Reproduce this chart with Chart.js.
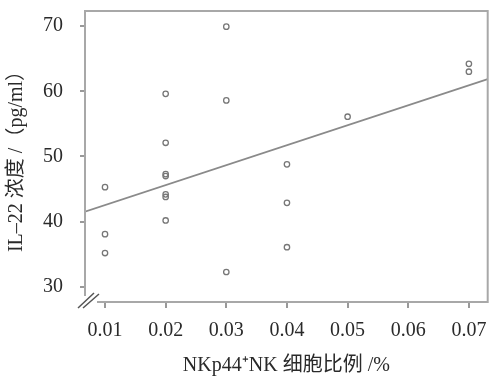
<!DOCTYPE html>
<html>
<head>
<meta charset="utf-8">
<script src="https://cdn.jsdelivr.net/npm/chart.js@4/dist/chart.umd.min.js"></script>
<style>
  html, body { margin: 0; padding: 0; background: #fff; }
  #wrap { width: 493px; height: 381px; }
</style>
</head>
<body>
<div id="wrap"><canvas id="main"></canvas></div>
<script>
// NKp44+NK cell ratio (%) vs IL-22 concentration (pg/ml)
const ratioX = [0.01, 0.01, 0.01,
  0.02, 0.02, 0.02, 0.02, 0.02, 0.02, 0.02,
  0.03, 0.03, 0.03,
  0.04, 0.04, 0.04,
  0.05,
  0.07, 0.07];
const il22Y = [45.3, 38.1, 35.2,
  59.6, 52.1, 47.3, 47.0, 44.2, 43.8, 40.2,
  69.9, 58.6, 32.3,
  48.8, 42.9, 36.1,
  56.1,
  64.2, 63.0];

// fitted line, read at the two plot edges
const fitX = [0.0067, 0.0731];
const fitY = [41.55, 61.86];

const xTicks = [0.01, 0.02, 0.03, 0.04, 0.05, 0.06, 0.07];
const yTicks = [30, 40, 50, 60, 70];

const xTitle = 'NKp44⁺NK 细胞比例 /%';
const yTitle = 'IL–22 浓度 /（pg/ml）';

const serif = "'Liberation Serif', 'Noto Sans CJK SC', serif";

// frame with the axis break at bottom-left
const framePlugin = {
  id: 'frame',
  afterDraw(chart) {
    const { ctx, chartArea: a } = chart;
    ctx.save();
    ctx.lineWidth = 2;
    ctx.strokeStyle = '#a8a8a8';
    ctx.beginPath();
    ctx.moveTo(a.left, a.bottom - 6);
    ctx.lineTo(a.left, a.top);
    ctx.lineTo(a.right, a.top);
    ctx.lineTo(a.right, a.bottom);
    ctx.lineTo(a.left + 12, a.bottom);
    ctx.stroke();
    ctx.lineWidth = 1.5;
    ctx.strokeStyle = '#555';
    ctx.beginPath();
    ctx.moveTo(a.left - 7, a.bottom + 6);
    ctx.lineTo(a.left + 9, a.bottom - 9);
    ctx.moveTo(a.left - 2, a.bottom + 6);
    ctx.lineTo(a.left + 14, a.bottom - 8);
    ctx.stroke();
    ctx.restore();
  }
};

const pts = ratioX.map((x, i) => ({ x: x, y: il22Y[i] }));
const line = fitX.map((x, i) => ({ x: x, y: fitY[i] }));

new Chart(document.getElementById('main'), {
  type: 'scatter',
  data: {
    datasets: [
      {
        label: 'points',
        data: pts,
        pointStyle: 'circle',
        pointRadius: 2.7,
        borderColor: '#777',
        backgroundColor: 'rgba(0,0,0,0)',
        borderWidth: 1.3
      },
      {
        label: 'fit',
        type: 'line',
        data: line,
        borderColor: '#8a8a8a',
        borderWidth: 1.6,
        pointRadius: 0,
        fill: false
      }
    ]
  },
  options: {
    responsive: true,
    maintainAspectRatio: false,
    animation: false,
    layout: { padding: { top: 11, right: 3, left: 0, bottom: 0 } },
    plugins: {
      legend: { display: false },
      tooltip: { enabled: false }
    },
    scales: {
      x: {
        type: 'linear',
        min: 0.0067,
        max: 0.0731,
        afterBuildTicks: s => { s.ticks = xTicks.map(v => ({ value: v })); },
        afterFit: s => { s.height = 79; s.paddingLeft = 0; s.paddingRight = 0; },
        border: { display: false },
        grid: { drawOnChartArea: false, drawTicks: true, tickLength: 6, color: '#999', lineWidth: 2 },
        ticks: {
          color: '#2a2a2a',
          padding: 11,
          font: { family: serif, size: 20 },
          callback: v => v.toFixed(2)
        },
        title: {
          display: true,
          text: xTitle,
          color: '#2a2a2a',
          font: { family: serif, size: 20 },
          padding: { top: 0, bottom: 3 }
        }
      },
      y: {
        type: 'linear',
        min: 27.7,
        max: 72.3,
        afterBuildTicks: s => { s.ticks = yTicks.map(v => ({ value: v })); },
        afterFit: s => { s.width = 85; s.paddingTop = 0; s.paddingBottom = 0; },
        border: { display: false },
        grid: { drawOnChartArea: false, drawTicks: true, tickLength: 5, color: '#999', lineWidth: 2 },
        ticks: {
          color: '#2a2a2a',
          padding: 17,
          font: { family: serif, size: 20 }
        },
        title: {
          display: true,
          text: yTitle,
          color: '#2a2a2a',
          font: { family: serif, size: 20 },
          padding: { top: 5, bottom: 0 }
        }
      }
    }
  },
  plugins: [framePlugin]
});
</script>
</body>
</html>
